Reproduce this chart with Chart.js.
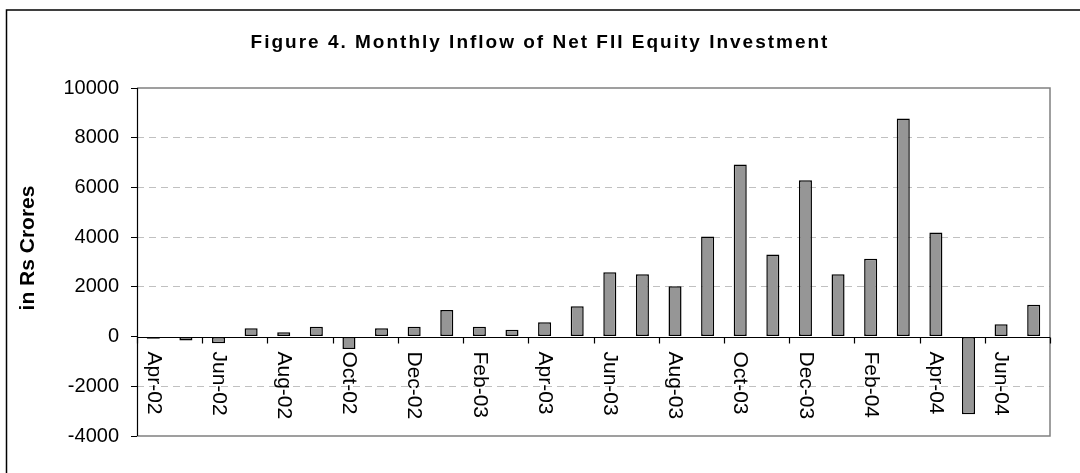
<!DOCTYPE html>
<html>
<head>
<meta charset="utf-8">
<script src="https://cdn.jsdelivr.net/npm/chart.js@4"></script>
<style>
  html, body { margin: 0; padding: 0; background: #fff; }
  #wrap { width: 1080px; height: 473px; position: relative; }
</style>
</head>
<body>
<div id="wrap"><canvas id="c" width="1080" height="473"></canvas></div>
<script>
// ---- data ----
const categories = ["Apr-02","May-02","Jun-02","Jul-02","Aug-02","Sep-02","Oct-02","Nov-02","Dec-02","Jan-03","Feb-03","Mar-03",
                    "Apr-03","May-03","Jun-03","Jul-03","Aug-03","Sep-03","Oct-03","Nov-03","Dec-03","Jan-04","Feb-04","Mar-04",
                    "Apr-04","May-04","Jun-04","Jul-04"];
const netFII = [-90, -160, -270, 335, 175, 400, -495, 335, 400, 1070, 400, 270,
                575, 1220, 2585, 2505, 2020, 4030, 6920, 3305, 6290, 2505, 3130, 8770,
                4190, -3130, 495, 1285];
const xTickLabels = ["Apr-02","Jun-02","Aug-02","Oct-02","Dec-02","Feb-03","Apr-03","Jun-03","Aug-03","Oct-03","Dec-03","Feb-04","Apr-04","Jun-04"];
const yTickValues = [-4000, -2000, 0, 2000, 4000, 6000, 8000, 10000];
const titleText = "Figure 4. Monthly Inflow of Net FII Equity Investment";
const yAxisTitle = "in Rs Crores";

const FONT = "'Liberation Sans', Arial, sans-serif";

const decorPlugin = {
  id: 'decor',
  beforeDraw(chart) {
    const ctx = chart.ctx;
    ctx.save();
    // outer frame
    ctx.strokeStyle = '#000';
    ctx.lineWidth = 1.5;
    ctx.beginPath();
    ctx.moveTo(6.5, 480); ctx.lineTo(6.5, 10); ctx.lineTo(1090, 10);
    ctx.stroke();
    // title
    ctx.fillStyle = '#000';
    ctx.font = "bold 19px " + FONT;
    ctx.letterSpacing = '2px';
    ctx.textAlign = 'center';
    ctx.textBaseline = 'middle';
    ctx.fillText(titleText, 540, 43);
    ctx.restore();
    // y axis title
    ctx.save();
    ctx.fillStyle = '#000';
    ctx.font = "bold 21px " + FONT;
    ctx.textAlign = 'center';
    ctx.textBaseline = 'middle';
    ctx.translate(28, 248);
    ctx.rotate(-Math.PI / 2);
    ctx.fillText(yAxisTitle, 0, 0);
    ctx.restore();
  },
  afterDatasetsDraw(chart) {
    const ctx = chart.ctx;
    const xs = chart.scales.x, ys = chart.scales.y;
    const a = chart.chartArea;
    const y0 = Math.round(ys.getPixelForValue(0)) + 0.5;
    ctx.save();
    // plot border (gray) top/right/bottom
    ctx.strokeStyle = '#808080';
    ctx.lineWidth = 1.5;
    ctx.beginPath();
    ctx.moveTo(a.left, a.top); ctx.lineTo(a.right, a.top); ctx.lineTo(a.right, a.bottom); ctx.lineTo(a.left, a.bottom);
    ctx.stroke();
    // y axis line
    ctx.strokeStyle = '#000';
    ctx.lineWidth = 1.2;
    ctx.beginPath();
    ctx.moveTo(a.left + 0.5, a.top); ctx.lineTo(a.left + 0.5, a.bottom);
    ctx.stroke();
    // zero axis line
    ctx.beginPath();
    ctx.moveTo(a.left, y0); ctx.lineTo(a.right, y0);
    ctx.stroke();
    // tick marks every other category boundary
    const n = categories.length;
    const w = (xs.getPixelForValue(1) - xs.getPixelForValue(0));
    ctx.beginPath();
    for (let i = 0; i <= n; i += 2) {
      const px = Math.round(xs.getPixelForValue(i) - w / 2) + 0.5;
      ctx.moveTo(px, y0); ctx.lineTo(px, y0 + 6);
    }
    ctx.stroke();
    // rotated labels (top-to-bottom)
    ctx.fillStyle = '#000';
    ctx.font = "21px " + FONT;
    ctx.textAlign = 'left';
    ctx.textBaseline = 'middle';
    xTickLabels.forEach((lab) => {
      const idx = categories.indexOf(lab);
      const px = xs.getPixelForValue(idx);
      ctx.save();
      ctx.translate(px, y0 + 14);
      ctx.rotate(Math.PI / 2);
      ctx.fillText(lab, 0, 0);
      ctx.restore();
    });
    ctx.restore();
  }
};

new Chart(document.getElementById('c'), {
  type: 'bar',
  data: {
    labels: categories,
    datasets: [{
      data: netFII,
      backgroundColor: '#969696',
      borderColor: '#000',
      borderWidth: 1.5,
      borderSkipped: false,
      categoryPercentage: 1.0,
      barPercentage: 0.4
    }]
  },
  options: {
    responsive: false,
    animation: false,
    devicePixelRatio: 1,
    layout: { padding: { left: 0, top: 88, right: 30, bottom: 37 } },
    plugins: { legend: { display: false }, tooltip: { enabled: false }, title: { display: false } },
    scales: {
      x: { display: false },
      y: {
        min: -4000, max: 10000,
        afterBuildTicks(scale) { scale.ticks = yTickValues.map(v => ({ value: v })); },
        afterFit(scale) { scale.width = 137; },
        border: { display: false, dash: [7, 5] },
        grid: {
          color: (c) => (c.tick && (c.tick.value === 10000 || c.tick.value === -4000 || c.tick.value === 0)) ? 'rgba(0,0,0,0)' : '#c0c0c0',
          lineWidth: 1,
          tickLength: 6,
          tickColor: '#000',
          tickBorderDash: [0, 0],
          drawTicks: true
        },
        ticks: {
          color: '#000',
          font: { family: FONT, size: 20 },
          padding: 12,
          callback: (v) => String(v)
        }
      }
    }
  },
  plugins: [decorPlugin]
});
</script>
</body>
</html>
